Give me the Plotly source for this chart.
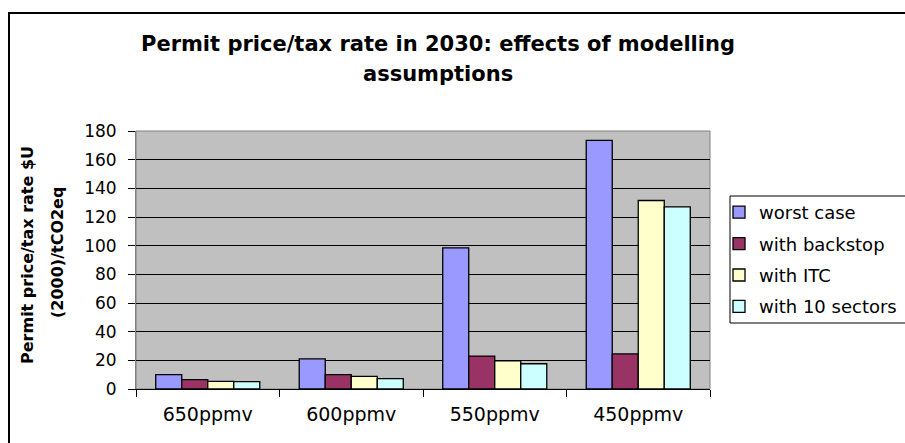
import plotly.graph_objects as go

categories = ["650ppmv", "600ppmv", "550ppmv", "450ppmv"]
series_names = ["worst case", "with backstop", "with ITC", "with 10 sectors"]
worst_case = [10, 21, 98.5, 173.5]
with_backstop = [6.5, 10, 23, 24.5]
with_itc = [5.3, 8.8, 19.7, 131.5]
with_10_sectors = [5.2, 7.3, 17.6, 127]
colors = ["#9999FF", "#993366", "#FFFFCC", "#CCFFFF"]
y_ticks = [0, 20, 40, 60, 80, 100, 120, 140, 160, 180]

title_line1 = "Permit price/tax rate in 2030: effects of modelling"
title_line2 = "assumptions"
ytitle_line1 = "Permit price/tax rate $U"
ytitle_line2 = "(2000)/tCO2eq"

W, H = 905, 443
L, R, T, B = 136, 195, 131, 54
pw = W - L - R
ph = H - T - B

def px_x(p):
    return (p - L) / pw

def px_y(p):
    return (H - B - p) / ph

fig = go.Figure()
for name, vals, col in zip(series_names,
                           [worst_case, with_backstop, with_itc, with_10_sectors],
                           colors):
    fig.add_trace(go.Bar(
        name=name, x=categories, y=vals, legendgroup=name,
        marker=dict(color=col, line=dict(color="black", width=1.3)),
    ))

font_family = "DejaVu Sans"

fig.update_layout(
    width=W, height=H,
    margin=dict(l=L, r=R, t=T, b=B, pad=0, autoexpand=False),
    paper_bgcolor="white",
    plot_bgcolor="#C0C0C0",
    barmode="group",
    bargap=0.275,
    bargroupgap=0,
    font=dict(family=font_family, color="black"),
    showlegend=True,
    legend=dict(
        x=px_x(719), y=px_y(194), xanchor="left", yanchor="top",
        borderwidth=0, bgcolor="rgba(0,0,0,0)",
        font=dict(family=font_family, size=18, color="black"),
        tracegroupgap=5, traceorder="grouped",
    ),
    xaxis=dict(
        showgrid=False, showline=True, linecolor="black", linewidth=1,
        ticks="outside", tickson="boundaries", ticklen=7, tickcolor="black",
        tickfont=dict(family=font_family, size=19, color="black"),
        ticklabelstandoff=8,
    ),
    yaxis=dict(
        range=[0, 180], tickvals=y_ticks, showgrid=True, gridcolor="black",
        gridwidth=1, zeroline=False, showline=True, linecolor="#808080",
        linewidth=1, ticks="outside", ticklen=7, tickcolor="black",
        tickfont=dict(family=font_family, size=17, color="black"),
        ticklabelstandoff=8,
    ),
    shapes=[
        dict(type="rect", xref="paper", yref="paper", x0=0, x1=1, y0=0, y1=1,
             line=dict(color="#808080", width=1), layer="below"),
        dict(type="rect", xref="paper", yref="paper",
             x0=px_x(730), x1=px_x(930), y0=px_y(323), y1=px_y(196),
             line=dict(color="black", width=1), fillcolor="white", layer="above"),
        dict(type="rect", xref="paper", yref="paper",
             x0=px_x(9), x1=px_x(930), y0=px_y(470), y1=px_y(13),
             line=dict(color="black", width=2)),
    ],
    annotations=[
        dict(text=title_line1, xref="paper", yref="paper", x=px_x(438), y=px_y(44),
             xanchor="center", yanchor="middle", showarrow=False,
             font=dict(family=font_family, size=21, color="black", weight="bold")),
        dict(text=title_line2, xref="paper", yref="paper", x=px_x(438), y=px_y(74),
             xanchor="center", yanchor="middle", showarrow=False,
             font=dict(family=font_family, size=21, color="black", weight="bold")),
        dict(text=ytitle_line1, xref="paper", yref="paper", x=px_x(27), y=px_y(255),
             xanchor="center", yanchor="middle", showarrow=False, textangle=-90,
             font=dict(family=font_family, size=16, color="black", weight="bold")),
        dict(text=ytitle_line2, xref="paper", yref="paper", x=px_x(57), y=px_y(253),
             xanchor="center", yanchor="middle", showarrow=False, textangle=-90,
             font=dict(family=font_family, size=16, color="black", weight="bold")),
    ],
)

fig.write_html("out.html")
